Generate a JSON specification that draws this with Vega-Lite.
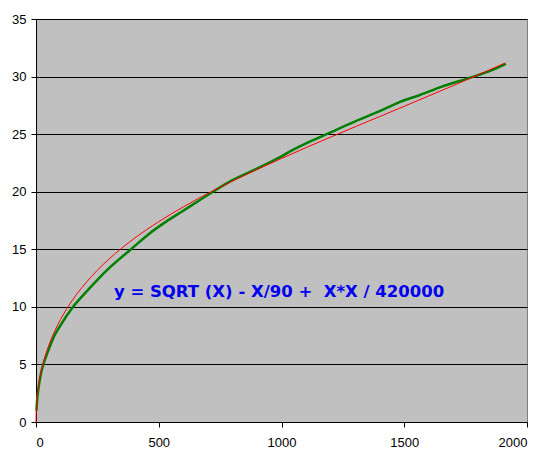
{
  "$schema": "https://vega.github.io/schema/vega-lite/v6.json",
  "width": 491,
  "height": 403,
  "autosize": {"type": "none"},
  "padding": {"left": 36, "top": 19, "right": 21, "bottom": 34},
  "background": "white",
  "config": {
    "view": {"fill": "#c0c0c0", "stroke": "#808080", "strokeWidth": 1},
    "axis": {
      "labelFont": "Liberation Sans",
      "labelFontSize": 13,
      "labelColor": "black",
      "domainColor": "black",
      "tickColor": "black",
      "tickSize": 5,
      "title": null
    }
  },
  "datasets": {
    "green": [
      {"x": 2, "y": 1.0}, {"x": 5, "y": 2.0}, {"x": 10, "y": 2.9}, {"x": 20, "y": 4.2},
      {"x": 30, "y": 5.0}, {"x": 50, "y": 6.2}, {"x": 75, "y": 7.5}, {"x": 100, "y": 8.4},
      {"x": 151, "y": 10.0}, {"x": 200, "y": 11.2}, {"x": 257, "y": 12.5}, {"x": 300, "y": 13.4},
      {"x": 387, "y": 15.0}, {"x": 464, "y": 16.4}, {"x": 530, "y": 17.4}, {"x": 600, "y": 18.35},
      {"x": 721, "y": 20.0}, {"x": 800, "y": 21.0}, {"x": 900, "y": 22.0}, {"x": 994, "y": 23.0},
      {"x": 1035, "y": 23.5}, {"x": 1100, "y": 24.2}, {"x": 1184, "y": 25.0}, {"x": 1300, "y": 26.1},
      {"x": 1400, "y": 27.0}, {"x": 1483, "y": 27.8}, {"x": 1564, "y": 28.4}, {"x": 1650, "y": 29.1},
      {"x": 1775, "y": 29.95}, {"x": 1850, "y": 30.5}, {"x": 1914, "y": 31.1}
    ],
    "red": [
      {"x": 0, "y": 0}, {"x": 1, "y": 0.99}, {"x": 2, "y": 1.39}, {"x": 5, "y": 2.18},
      {"x": 10, "y": 3.05}, {"x": 20, "y": 4.25}, {"x": 35, "y": 5.53}, {"x": 50, "y": 6.52},
      {"x": 75, "y": 7.84}, {"x": 100, "y": 8.91}, {"x": 150, "y": 10.63}, {"x": 200, "y": 12.01},
      {"x": 250, "y": 13.18}, {"x": 300, "y": 14.2}, {"x": 400, "y": 15.94}, {"x": 500, "y": 17.4},
      {"x": 600, "y": 18.68}, {"x": 700, "y": 19.85}, {"x": 800, "y": 20.92}, {"x": 900, "y": 21.93},
      {"x": 1000, "y": 22.89}, {"x": 1100, "y": 23.83}, {"x": 1200, "y": 24.74}, {"x": 1300, "y": 25.64},
      {"x": 1400, "y": 26.53}, {"x": 1500, "y": 27.42}, {"x": 1600, "y": 28.32}, {"x": 1700, "y": 29.22},
      {"x": 1800, "y": 30.14}, {"x": 1910, "y": 31.17}
    ],
    "label": [
      {"x": 990, "y": 10.87, "text": "y = SQRT (X) - X/90 +\u00a0 X*X / 420000"}
    ]
  },
  "layer": [
    {
      "data": {"name": "green"},
      "mark": {"type": "line", "color": "#008000", "strokeWidth": 2.5, "interpolate": "monotone"},
      "encoding": {
        "x": {"field": "x", "type": "quantitative", "scale": {"domain": [0, 2000], "nice": false},
          "axis": {"values": [0, 500, 1000, 1500, 2000], "format": "d", "grid": false, "labelPadding": 9}},
        "y": {"field": "y", "type": "quantitative", "scale": {"domain": [0, 35], "nice": false},
          "axis": {"values": [0, 5, 10, 15, 20, 25, 30, 35], "grid": true, "gridColor": "black", "gridOpacity": 1, "gridWidth": 1, "labelPadding": 5}}
      }
    },
    {
      "data": {"name": "red"},
      "mark": {"type": "line", "color": "#ff0000", "strokeWidth": 1, "interpolate": "monotone"},
      "encoding": {
        "x": {"field": "x", "type": "quantitative"},
        "y": {"field": "y", "type": "quantitative"}
      }
    },
    {
      "data": {"name": "label"},
      "mark": {"type": "text", "font": "DejaVu Sans", "fontWeight": "bold", "fontSize": 16.5, "color": "#0000ee", "align": "center", "baseline": "alphabetic"},
      "encoding": {
        "x": {"field": "x", "type": "quantitative"},
        "y": {"field": "y", "type": "quantitative"},
        "text": {"field": "text"}
      }
    }
  ]
}
